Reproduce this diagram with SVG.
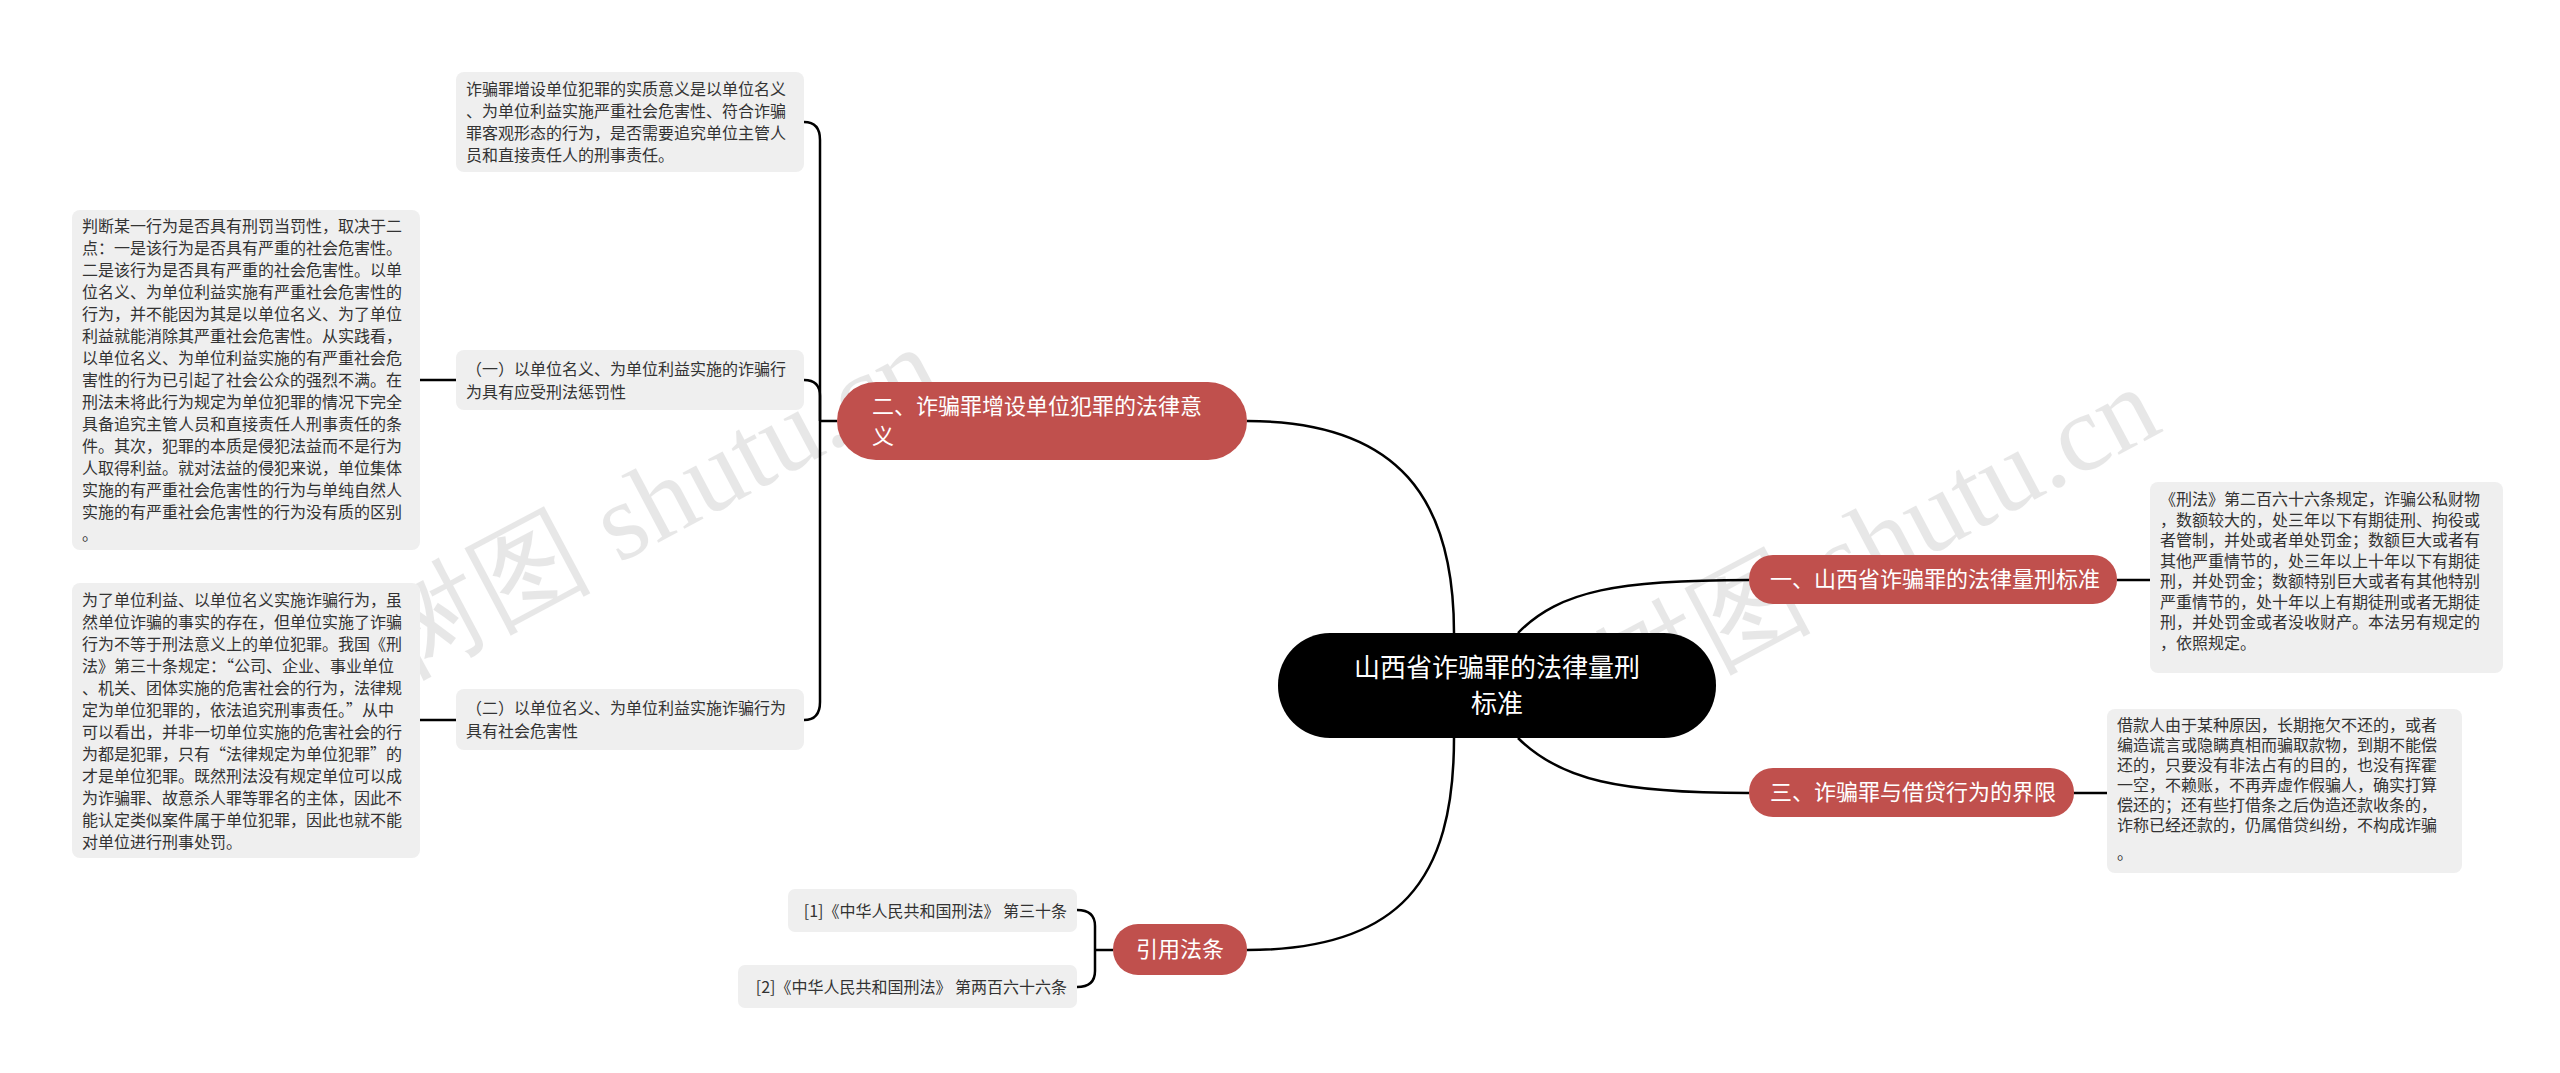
<svg xmlns="http://www.w3.org/2000/svg" width="2560" height="1073" viewBox="0 0 2560 1073">
<style>
.box{fill:#efefef}
.t{font-family:"Noto Sans CJK SC","Liberation Sans",sans-serif;font-size:16px;fill:#333}
.red{fill:#c0504d}
.w{font-family:"Noto Sans CJK SC","Liberation Sans",sans-serif;font-size:22px;fill:#fff}
.c{fill:none;stroke:#000;stroke-width:2.5}
.wm{font-family:"Liberation Serif",serif;font-size:110px;fill:#000;opacity:0.09}
</style>
<rect width="2560" height="1073" fill="#fff"/>
<text class="wm" transform="translate(400,680) rotate(-28)">树图 shutu.cn</text>
<text class="wm" transform="translate(1620,720) rotate(-28)">树图 shutu.cn</text>
<g id="connectors">
<path class="c" d="M1454,633 C1454,500 1400,421 1247,421"/>
<path class="c" d="M1454,738 C1454,880 1400,950 1247,950"/>
<path class="c" d="M1518,633 C1560,590 1620,580 1749,580"/>
<path class="c" d="M1518,738 C1560,780 1620,793 1749,793"/>
<path class="c" d="M2117,580 H2150"/>
<path class="c" d="M2074,793 H2107"/>
<path class="c" d="M837,421 H820"/>
<path class="c" d="M820,421 V140 Q820,122 804,122"/>
<path class="c" d="M820,421 V396 Q820,380 804,380"/>
<path class="c" d="M820,421 V702 Q820,720 804,720"/>
<path class="c" d="M420,380 H456"/>
<path class="c" d="M420,720 H456"/>
<path class="c" d="M1113,950 H1095"/>
<path class="c" d="M1095,950 V926 Q1095,910 1077,910"/>
<path class="c" d="M1095,950 V971 Q1095,987 1077,987"/>
</g>
<g id="center">
<rect x="1278" y="633" width="438" height="105" rx="52" fill="#000"/>
<text class="w" style="font-size:26px" text-anchor="middle" x="1497" y="677">山西省诈骗罪的法律量刑</text>
<text class="w" style="font-size:26px" text-anchor="middle" x="1497" y="713">标准</text>
</g>
<g id="n1">
<rect class="red" x="1749" y="555" width="368" height="49" rx="24"/>
<text class="w" x="1770" y="587">一、山西省诈骗罪的法律量刑标准</text>
</g>
<g id="n1d">
<rect class="box" x="2150" y="482" width="353" height="191" rx="8"/>
<text class="t" x="2160" y="505">《刑法》第二百六十六条规定，诈骗公私财物</text>
<text class="t" x="2160" y="525.5">，数额较大的，处三年以下有期徒刑、拘役或</text>
<text class="t" x="2160" y="546">者管制，并处或者单处罚金；数额巨大或者有</text>
<text class="t" x="2160" y="566.5">其他严重情节的，处三年以上十年以下有期徒</text>
<text class="t" x="2160" y="587">刑，并处罚金；数额特别巨大或者有其他特别</text>
<text class="t" x="2160" y="607.5">严重情节的，处十年以上有期徒刑或者无期徒</text>
<text class="t" x="2160" y="628">刑，并处罚金或者没收财产。本法另有规定的</text>
<text class="t" x="2160" y="648.5">，依照规定。</text>
</g>
<g id="n3">
<rect class="red" x="1749" y="768" width="325" height="49" rx="24"/>
<text class="w" x="1770" y="800">三、诈骗罪与借贷行为的界限</text>
</g>
<g id="n3d">
<rect class="box" x="2107" y="709" width="355" height="164" rx="8"/>
<text class="t" x="2117" y="731">借款人由于某种原因，长期拖欠不还的，或者</text>
<text class="t" x="2117" y="751">编造谎言或隐瞒真相而骗取款物，到期不能偿</text>
<text class="t" x="2117" y="771">还的，只要没有非法占有的目的，也没有挥霍</text>
<text class="t" x="2117" y="791">一空，不赖账，不再弄虚作假骗人，确实打算</text>
<text class="t" x="2117" y="811">偿还的；还有些打借条之后伪造还款收条的，</text>
<text class="t" x="2117" y="831">诈称已经还款的，仍属借贷纠纷，不构成诈骗</text>
<text class="t" x="2117" y="859">。</text>
</g>
<g id="n2">
<rect class="red" x="837" y="382" width="410" height="78" rx="39"/>
<text class="w" x="872" y="414">二、诈骗罪增设单位犯罪的法律意</text>
<text class="w" x="872" y="444">义</text>
</g>
<g id="n2a">
<rect class="box" x="456" y="72" width="348" height="100" rx="8"/>
<text class="t" x="466" y="95">诈骗罪增设单位犯罪的实质意义是以单位名义</text>
<text class="t" x="466" y="117">、为单位利益实施严重社会危害性、符合诈骗</text>
<text class="t" x="466" y="139">罪客观形态的行为，是否需要追究单位主管人</text>
<text class="t" x="466" y="161">员和直接责任人的刑事责任。</text>
</g>
<g id="n2b">
<rect class="box" x="456" y="350" width="348" height="60" rx="8"/>
<text class="t" x="466" y="375">（一）以单位名义、为单位利益实施的诈骗行</text>
<text class="t" x="466" y="398">为具有应受刑法惩罚性</text>
</g>
<g id="n2b1">
<rect class="box" x="72" y="210" width="348" height="340" rx="8"/>
<text class="t" x="82" y="232">判断某一行为是否具有刑罚当罚性，取决于二</text>
<text class="t" x="82" y="254">点：一是该行为是否具有严重的社会危害性。</text>
<text class="t" x="82" y="276">二是该行为是否具有严重的社会危害性。以单</text>
<text class="t" x="82" y="298">位名义、为单位利益实施有严重社会危害性的</text>
<text class="t" x="82" y="320">行为，并不能因为其是以单位名义、为了单位</text>
<text class="t" x="82" y="342">利益就能消除其严重社会危害性。从实践看，</text>
<text class="t" x="82" y="364">以单位名义、为单位利益实施的有严重社会危</text>
<text class="t" x="82" y="386">害性的行为已引起了社会公众的强烈不满。在</text>
<text class="t" x="82" y="408">刑法未将此行为规定为单位犯罪的情况下完全</text>
<text class="t" x="82" y="430">具备追究主管人员和直接责任人刑事责任的条</text>
<text class="t" x="82" y="452">件。其次，犯罪的本质是侵犯法益而不是行为</text>
<text class="t" x="82" y="474">人取得利益。就对法益的侵犯来说，单位集体</text>
<text class="t" x="82" y="496">实施的有严重社会危害性的行为与单纯自然人</text>
<text class="t" x="82" y="518">实施的有严重社会危害性的行为没有质的区别</text>
<text class="t" x="82" y="540">。</text>
</g>
<g id="n2c">
<rect class="box" x="456" y="689" width="348" height="61" rx="8"/>
<text class="t" x="466" y="714">（二）以单位名义、为单位利益实施诈骗行为</text>
<text class="t" x="466" y="737">具有社会危害性</text>
</g>
<g id="n2c1">
<rect class="box" x="72" y="583" width="348" height="275" rx="8"/>
<text class="t" x="82" y="606">为了单位利益、以单位名义实施诈骗行为，虽</text>
<text class="t" x="82" y="628">然单位诈骗的事实的存在，但单位实施了诈骗</text>
<text class="t" x="82" y="650">行为不等于刑法意义上的单位犯罪。我国《刑</text>
<text class="t" x="82" y="672">法》第三十条规定：“公司、企业、事业单位</text>
<text class="t" x="82" y="694">、机关、团体实施的危害社会的行为，法律规</text>
<text class="t" x="82" y="716">定为单位犯罪的，依法追究刑事责任。”从中</text>
<text class="t" x="82" y="738">可以看出，并非一切单位实施的危害社会的行</text>
<text class="t" x="82" y="760">为都是犯罪，只有“法律规定为单位犯罪”的</text>
<text class="t" x="82" y="782">才是单位犯罪。既然刑法没有规定单位可以成</text>
<text class="t" x="82" y="804">为诈骗罪、故意杀人罪等罪名的主体，因此不</text>
<text class="t" x="82" y="826">能认定类似案件属于单位犯罪，因此也就不能</text>
<text class="t" x="82" y="848">对单位进行刑事处罚。</text>
</g>
<g id="n4">
<rect class="red" x="1113" y="924" width="134" height="51" rx="25"/>
<text class="w" text-anchor="middle" x="1180" y="957">引用法条</text>
</g>
<g id="n4a">
<rect class="box" x="788" y="889" width="289" height="43" rx="7"/>
<text class="t" text-anchor="end" x="1067" y="917">[1]《中华人民共和国刑法》 第三十条</text>
</g>
<g id="n4b">
<rect class="box" x="738" y="965" width="339" height="43" rx="7"/>
<text class="t" text-anchor="end" x="1067" y="993">[2]《中华人民共和国刑法》 第两百六十六条</text>
</g>
</svg>
